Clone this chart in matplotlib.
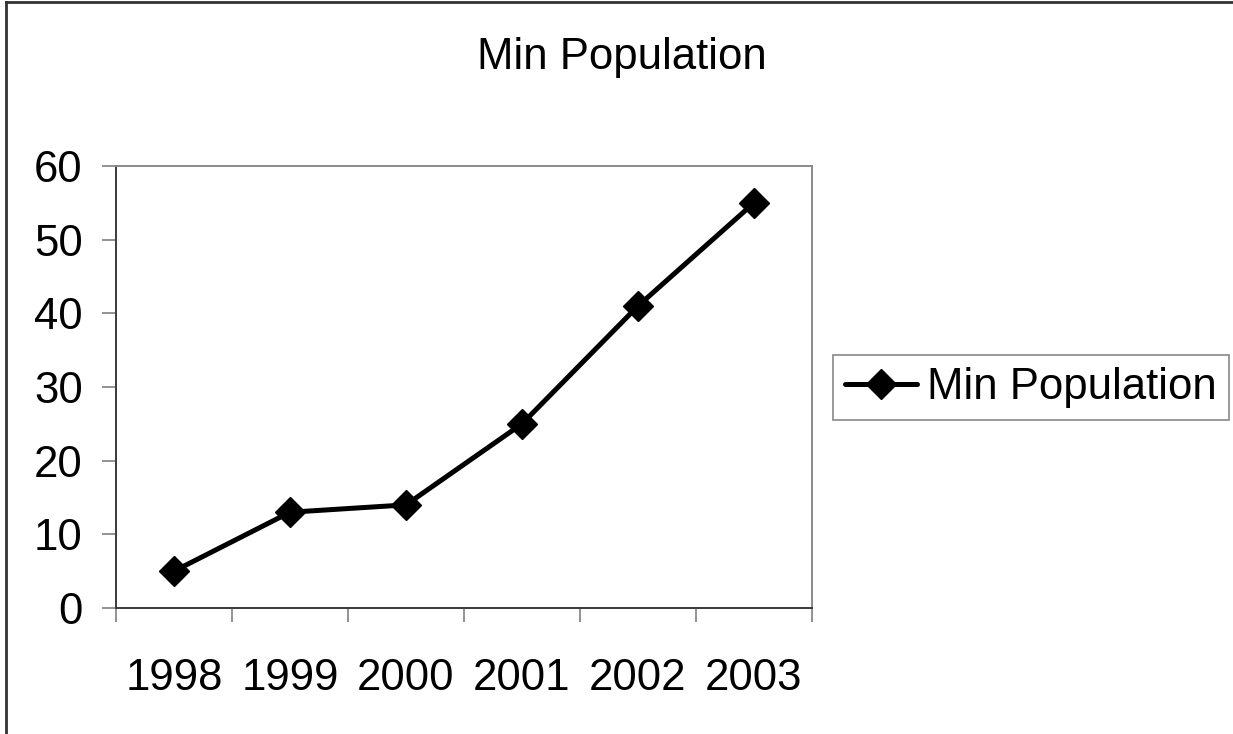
import matplotlib
matplotlib.use("Agg")
import matplotlib.pyplot as plt
from matplotlib.lines import Line2D

# Data
years = ["1998", "1999", "2000", "2001", "2002", "2003"]
min_population = [5, 13, 14, 25, 41, 55]
series_name = "Min Population"
y_ticks = [0, 10, 20, 30, 40, 50, 60]

plt.rcParams["font.family"] = ["Liberation Sans", "DejaVu Sans"]

FS = 31.5
W, H = 1233, 734
DPI = 100
fig = plt.figure(figsize=(W / DPI, H / DPI), dpi=DPI)
fig.patch.set_facecolor("white")

# Plot area in pixel coordinates
left_px, right_px, top_px, bottom_px = 116, 812, 166, 608
ax = fig.add_axes([left_px / W, 1 - bottom_px / H,
                   (right_px - left_px) / W, (bottom_px - top_px) / H])

x = list(range(len(years)))
line, = ax.plot(x, min_population, color="black", lw=3.6, marker="D",
                markersize=15, markerfacecolor="black", markeredgecolor="black",
                markeredgewidth=1, label=series_name, solid_capstyle="round",
                zorder=3)

ax.set_xlim(-0.5, len(years) - 0.5)
ax.set_ylim(0, 60)

# Category axis: labels centred on categories, ticks between them
ax.set_xticks(x)
ax.set_xticklabels(years)
ax.set_xticks([i - 0.5 for i in range(len(years) + 1)], minor=True)
ax.tick_params(axis="x", which="major", length=0, pad=36, labelsize=FS)
ax.tick_params(axis="x", which="minor", length=10, width=1.2, color="#808080",
               direction="out")

ax.set_yticks(y_ticks)
ax.tick_params(axis="y", which="major", length=10, width=1.2, color="#808080",
               direction="out", pad=14, labelsize=FS)

for side in ("left", "bottom"):
    ax.spines[side].set_color("#3a3a3a")
    ax.spines[side].set_linewidth(1.4)
for side in ("top", "right"):
    ax.spines[side].set_color("#8a8a8a")
    ax.spines[side].set_linewidth(1.4)

fig.text(622 / W, 1 - 57 / H, "Min Population", ha="center", va="center",
         fontsize=FS)

leg = ax.legend(loc="center left", bbox_to_anchor=(833 / W, 1 - 387.5 / H),
                bbox_transform=fig.transFigure, fontsize=FS, frameon=True,
                fancybox=False, borderaxespad=0, borderpad=0.28,
                handlelength=1.65, handletextpad=0.22)
leg.get_frame().set_edgecolor("#6a6a6a")
leg.get_frame().set_linewidth(1.2)

# Chart border (left and top edges)
fig.add_artist(Line2D([5.5 / W, 5.5 / W], [0, 1 - 1.5 / H], color="#333333",
                      lw=2, transform=fig.transFigure))
fig.add_artist(Line2D([5.5 / W, 1], [1 - 1.5 / H, 1 - 1.5 / H], color="#333333",
                      lw=2, transform=fig.transFigure))

fig.savefig("out.png", dpi=DPI, facecolor="white")
